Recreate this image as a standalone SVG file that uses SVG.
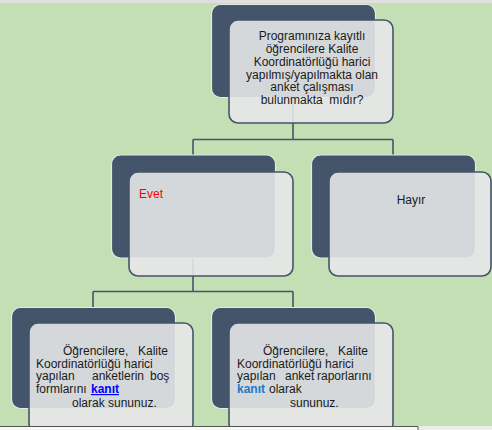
<svg xmlns="http://www.w3.org/2000/svg" width="492" height="430" viewBox="0 0 492 430">
<style>
.back{fill:#44546a;stroke:#e6e8e4;stroke-width:1.2}
.front{fill:#e6e7e8;fill-opacity:0.9;stroke:#44546a;stroke-width:1.6}
.conn{fill:none;stroke:#44546a;stroke-width:1.6}
text{font-family:"Liberation Sans",Arial,sans-serif;font-size:12px;fill:#1a1a1a}
.c{text-anchor:middle}
</style>
<rect x="0" y="0" width="492" height="430" fill="#c5dfb4"/>
<rect x="0" y="0" width="492" height="3" fill="#dfdfdf"/>
<g id="connectors">
<path class="conn" d="M293 97V139.5M193 139.5H393M193 139.5V156M393 139.5V156"/>
<path class="conn" d="M193 258V291.5M93 291.5H293M93 291.5V308M293 291.5V308"/>
</g>
<g id="n-question">
<rect class="back" x="211.5" y="4.5" width="164" height="93" rx="9"/>
<rect class="front" x="229" y="20" width="164" height="103" rx="9"/>
<text class="c" x="312" y="40">Programınıza kayıtlı</text>
<text class="c" x="312" y="53">öğrencilere Kalite</text>
<text class="c" x="312" y="66">Koordinatörlüğü harici</text>
<text class="c" x="312" y="78.5">yapılmış/yapılmakta olan</text>
<text class="c" x="312" y="91">anket çalışması</text>
<text class="c" x="312" y="103.5" xml:space="preserve">bulunmakta  mıdır?</text>
</g>
<g id="n-evet">
<rect class="back" x="111.5" y="155" width="164" height="103" rx="9"/>
<rect class="front" x="129" y="172" width="164" height="104" rx="9"/>
<text x="139" y="198" style="fill:#ff0000">Evet</text>
</g>
<g id="n-hayir">
<rect class="back" x="311.5" y="155" width="164" height="103" rx="9"/>
<rect class="front" x="329" y="172" width="162" height="104" rx="9"/>
<text class="c" x="411" y="204">Hayır</text>
</g>
<g id="n-formlar">
<rect class="back" x="11.5" y="307.5" width="164" height="101" rx="9"/>
<rect class="front" x="29" y="323" width="164" height="110" rx="9"/>
<text y="355"><tspan x="63">Öğrencilere,</tspan><tspan x="138">Kalite</tspan></text>
<text x="36" y="367.5">Koordinatörlüğü harici</text>
<text y="380"><tspan x="36">yapılan</tspan><tspan x="92">anketlerin</tspan><tspan x="150">boş</tspan></text>
<text y="393"><tspan x="36">formlarını</tspan><tspan x="91" style="fill:#0000ff;font-weight:bold;text-decoration:underline">kanıt</tspan></text>
<text x="72" y="407">olarak sununuz.</text>
</g>
<g id="n-raporlar">
<rect class="back" x="211.5" y="307.5" width="164" height="101" rx="9"/>
<rect class="front" x="229" y="323" width="164" height="110" rx="9"/>
<text y="355"><tspan x="263">Öğrencilere,</tspan><tspan x="338">Kalite</tspan></text>
<text x="237" y="367.5">Koordinatörlüğü harici</text>
<text y="380"><tspan x="237">yapılan</tspan><tspan x="285">anket</tspan><tspan x="317">raporlarını</tspan></text>
<text y="393"><tspan x="237" style="fill:#1f77c8;font-weight:bold">kanıt</tspan><tspan x="269">olarak</tspan></text>
<text x="290" y="407">sununuz.</text>
</g>
<rect x="0" y="426" width="492" height="4" fill="#ececec"/>
<rect x="0" y="426" width="418" height="4" fill="#f8f8f8"/>
<path d="M0 426.5H418V430" fill="none" stroke="#555" stroke-width="1"/>
</svg>
